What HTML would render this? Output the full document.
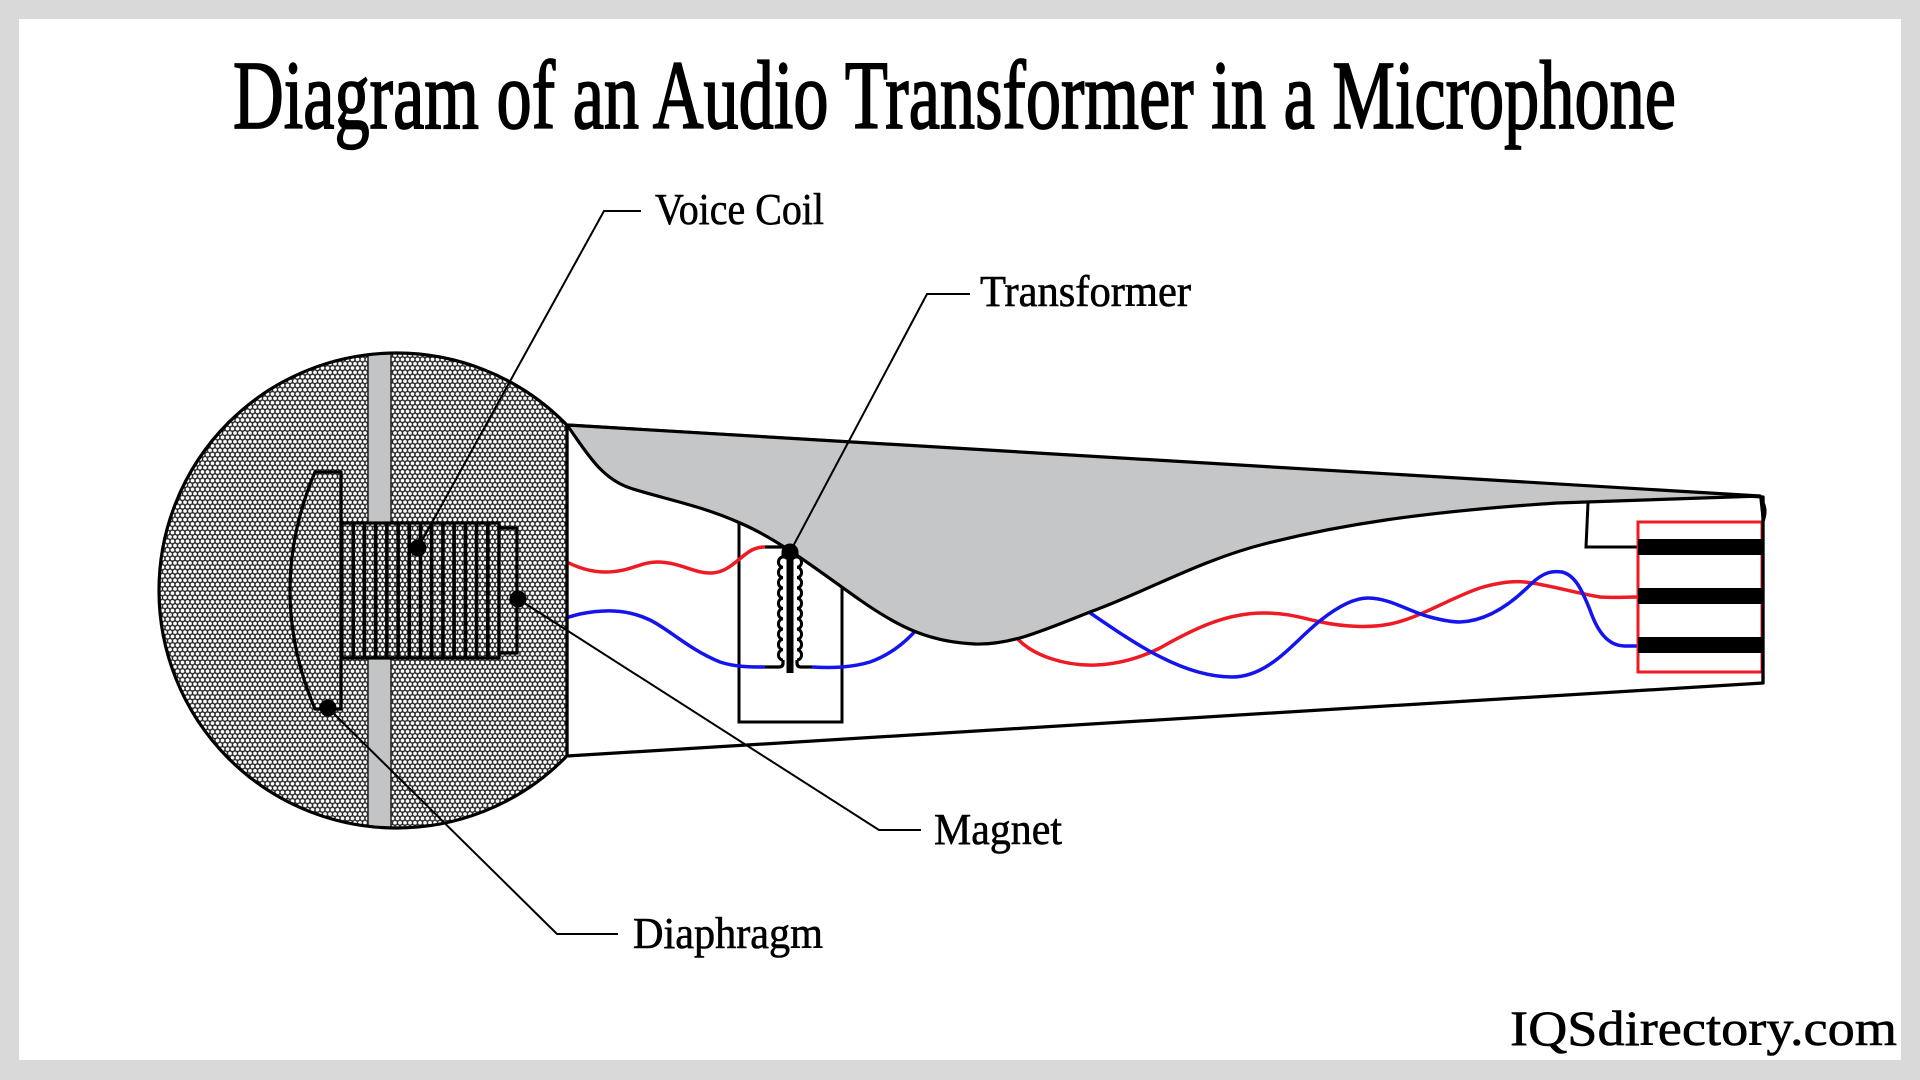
<!DOCTYPE html>
<html><head><meta charset="utf-8"><style>
html,body{margin:0;padding:0;background:#d9d9d9;}
svg{display:block;}
</style></head><body>
<svg width="1920" height="1080" viewBox="0 0 1920 1080" xmlns="http://www.w3.org/2000/svg">
<defs>
<pattern id="hex" patternUnits="userSpaceOnUse" width="5" height="8.66">
<rect width="5" height="8.66" fill="#2a2a2a"/>
<circle cx="0" cy="0" r="1.85" fill="#fff"/>
<circle cx="5" cy="0" r="1.85" fill="#fff"/>
<circle cx="0" cy="8.66" r="1.85" fill="#fff"/>
<circle cx="5" cy="8.66" r="1.85" fill="#fff"/>
<circle cx="2.5" cy="4.33" r="1.85" fill="#fff"/>
</pattern>
<clipPath id="cut"><rect x="0" y="0" width="567" height="1080"/></clipPath>
<clipPath id="circ"><circle cx="396.5" cy="590.5" r="237.5"/></clipPath>
</defs>
<rect x="0" y="0" width="1920" height="1080" fill="#d9d9d9"/>
<rect x="19" y="19" width="1882" height="1041" fill="#fff"/>

<!-- Title -->
<text x="233" y="128" font-family="'Liberation Serif', serif" font-size="98" textLength="1443" lengthAdjust="spacingAndGlyphs" fill="#000" stroke="#000" stroke-width="1.8">Diagram of an Audio Transformer in a Microphone</text>

<!-- Body -->
<polygon points="567,425 1763,497 1763,683 567,756" fill="#fff" stroke="#000" stroke-width="3.2" stroke-linejoin="round"/>

<!-- Transformer box -->
<rect x="739" y="523" width="103" height="199" fill="none" stroke="#000" stroke-width="3"/>

<!-- Wires left -->
<path d="M517,528 C540,545 570,572 605,572 C630,572 640,562 657,562 C680,562 695,574 712,573 C730,572 740,556 752,550 C756,548 760,547 765,547" fill="none" stroke="#ee1b24" stroke-width="3.5"/>
<path d="M517,652 C525,640 545,622 580,614 C600,610 625,608 650,620 C670,630 690,650 720,662 C735,667 750,667 765,667" fill="none" stroke="#1414ee" stroke-width="3.5"/>
<path d="M812,667 C830,668 850,668 870,662 C890,655 905,643 918,628" fill="none" stroke="#1414ee" stroke-width="3.5"/>

<!-- Wires right -->
<path d="M1012,632 C1030,658 1070,666 1096,665 C1120,664 1140,658 1160,648 C1200,625 1230,613 1264,613 C1290,613 1305,619 1321,622 C1345,627 1370,628 1390,624 C1420,618 1450,598 1480,588 C1500,582 1515,581 1525,582 C1550,585 1575,593 1600,597 C1615,598 1625,597 1638,597" fill="none" stroke="#ee1b24" stroke-width="3.5"/>
<path d="M1080,606 C1130,640 1180,677 1232,677 C1270,677 1295,640 1321,620 C1340,605 1355,598 1368,598 C1390,598 1410,612 1430,617 C1445,621 1455,622 1460,622 C1490,621 1515,600 1530,585 C1545,570 1555,571 1562,572 C1575,575 1582,590 1590,610 C1597,630 1607,646 1625,646 L1638,646" fill="none" stroke="#1414ee" stroke-width="3.5"/>

<!-- Gray handle shape -->
<path d="M567,425 C585,450 600,478 630,488 C660,498 700,505 740,523 C780,540 820,572 860,600 C900,628 930,642 975,644 C1010,645 1040,632 1090,612 C1150,590 1200,560 1268,543 C1340,525 1420,512 1557,503 L1760,496 L567,425 Z" fill="#c5c6c8" stroke="#000" stroke-width="3.2" stroke-linejoin="round"/>

<!-- Transformer coils -->
<path d="M765,547 L790,547" fill="none" stroke="#000" stroke-width="3.2"/>
<path d="M765,667 L779,667 Q783,667 783,663 L783,660" fill="none" stroke="#000" stroke-width="3.2"/>
<path d="M783,552 L783,557 a4.5,5.1 0 1 0 0,10.3 a4.5,5.1 0 1 0 0,10.3 a4.5,5.1 0 1 0 0,10.3 a4.5,5.1 0 1 0 0,10.3 a4.5,5.1 0 1 0 0,10.3 a4.5,5.1 0 1 0 0,10.3 a4.5,5.1 0 1 0 0,10.3 a4.5,5.1 0 1 0 0,10.3 a4.5,5.1 0 1 0 0,10.3 a4.5,5.1 0 1 0 0,10.3" fill="none" stroke="#000" stroke-width="3"/>
<path d="M797,552 L797,557 a4.5,5.1 0 1 1 0,10.3 a4.5,5.1 0 1 1 0,10.3 a4.5,5.1 0 1 1 0,10.3 a4.5,5.1 0 1 1 0,10.3 a4.5,5.1 0 1 1 0,10.3 a4.5,5.1 0 1 1 0,10.3 a4.5,5.1 0 1 1 0,10.3 a4.5,5.1 0 1 1 0,10.3 a4.5,5.1 0 1 1 0,10.3 a4.5,5.1 0 1 1 0,10.3" fill="none" stroke="#000" stroke-width="3"/>
<path d="M812,667 L801,667 Q797,667 797,663 L797,660" fill="none" stroke="#000" stroke-width="3.2"/>
<rect x="786.5" y="548" width="7" height="125" fill="#000"/>
<circle cx="790" cy="552" r="8.5" fill="#000"/>

<!-- Connector end -->
<path d="M1588,503 L1586,547 L1638,547" fill="none" stroke="#000" stroke-width="3"/>
<rect x="1638" y="522" width="124" height="150" fill="#fff" stroke="#ee1b24" stroke-width="3"/>
<rect x="1638" y="539" width="125" height="16" fill="#000"/>
<rect x="1638" y="588" width="125" height="16" fill="#000"/>
<rect x="1638" y="637" width="125" height="16" fill="#000"/>
<line x1="1763" y1="496" x2="1763" y2="684" stroke="#000" stroke-width="3.2"/>
<path d="M1759,495 Q1771,506 1764,523 L1762,523 Z" fill="#000"/>

<!-- Microphone head -->
<g clip-path="url(#cut)">
<circle cx="396.5" cy="590.5" r="237.5" fill="url(#hex)"/>
<g clip-path="url(#circ)">
<rect x="368" y="340" width="23" height="500" fill="#c3c4c6" stroke="#222" stroke-width="1.5"/>
</g>
<circle cx="396.5" cy="590.5" r="237.5" fill="none" stroke="#000" stroke-width="3.2"/>
</g>
<line x1="567" y1="424" x2="567" y2="757" stroke="#000" stroke-width="3.2"/>

<!-- Diaphragm -->
<path d="M315,472 L341,472 L341,709 L315,709 Q265,590.5 315,472 Z" fill="url(#hex)" stroke="#000" stroke-width="3.2" stroke-linejoin="round"/>

<!-- Voice coil -->
<rect x="342" y="523" width="157" height="135" fill="url(#hex)" stroke="#000" stroke-width="3.2"/>
<g stroke="#000" stroke-width="3.6">
<line x1="353.2" y1="523" x2="353.2" y2="658"/>
<line x1="364.4" y1="523" x2="364.4" y2="658"/>
<line x1="375.6" y1="523" x2="375.6" y2="658"/>
<line x1="386.9" y1="523" x2="386.9" y2="658"/>
<line x1="398.1" y1="523" x2="398.1" y2="658"/>
<line x1="409.3" y1="523" x2="409.3" y2="658"/>
<line x1="420.5" y1="523" x2="420.5" y2="658"/>
<line x1="431.7" y1="523" x2="431.7" y2="658"/>
<line x1="442.9" y1="523" x2="442.9" y2="658"/>
<line x1="454.1" y1="523" x2="454.1" y2="658"/>
<line x1="465.4" y1="523" x2="465.4" y2="658"/>
<line x1="476.6" y1="523" x2="476.6" y2="658"/>
<line x1="487.8" y1="523" x2="487.8" y2="658"/>
</g>
<rect x="499" y="528" width="18" height="125" fill="url(#hex)" stroke="#000" stroke-width="3.2"/>

<!-- Dots -->
<circle cx="418" cy="548" r="8.5" fill="#000"/>
<circle cx="518" cy="599" r="8.5" fill="#000"/>
<circle cx="328" cy="708" r="8.5" fill="#000"/>

<!-- Leader lines -->
<g fill="none" stroke="#000" stroke-width="2">
<polyline points="418,548 604,211 641,211"/>
<polyline points="790,552 927,294 970,294"/>
<polyline points="518,599 879,830 921,830"/>
<polyline points="328,708 557,934 618,934"/>
</g>

<!-- Labels -->
<g font-family="'Liberation Serif', serif" font-size="44" fill="#000" stroke="#000" stroke-width="0.6">
<text x="655" y="224" textLength="169" lengthAdjust="spacingAndGlyphs">Voice Coil</text>
<text x="980" y="306" textLength="211" lengthAdjust="spacingAndGlyphs">Transformer</text>
<text x="934" y="844" textLength="128" lengthAdjust="spacingAndGlyphs">Magnet</text>
<text x="633" y="948" textLength="190" lengthAdjust="spacingAndGlyphs">Diaphragm</text>
</g>
<text x="1510" y="1045" font-family="'Liberation Serif', serif" font-size="50" textLength="387" lengthAdjust="spacingAndGlyphs" fill="#000" stroke="#000" stroke-width="0.6">IQSdirectory.com</text>
</svg>
</body></html>
